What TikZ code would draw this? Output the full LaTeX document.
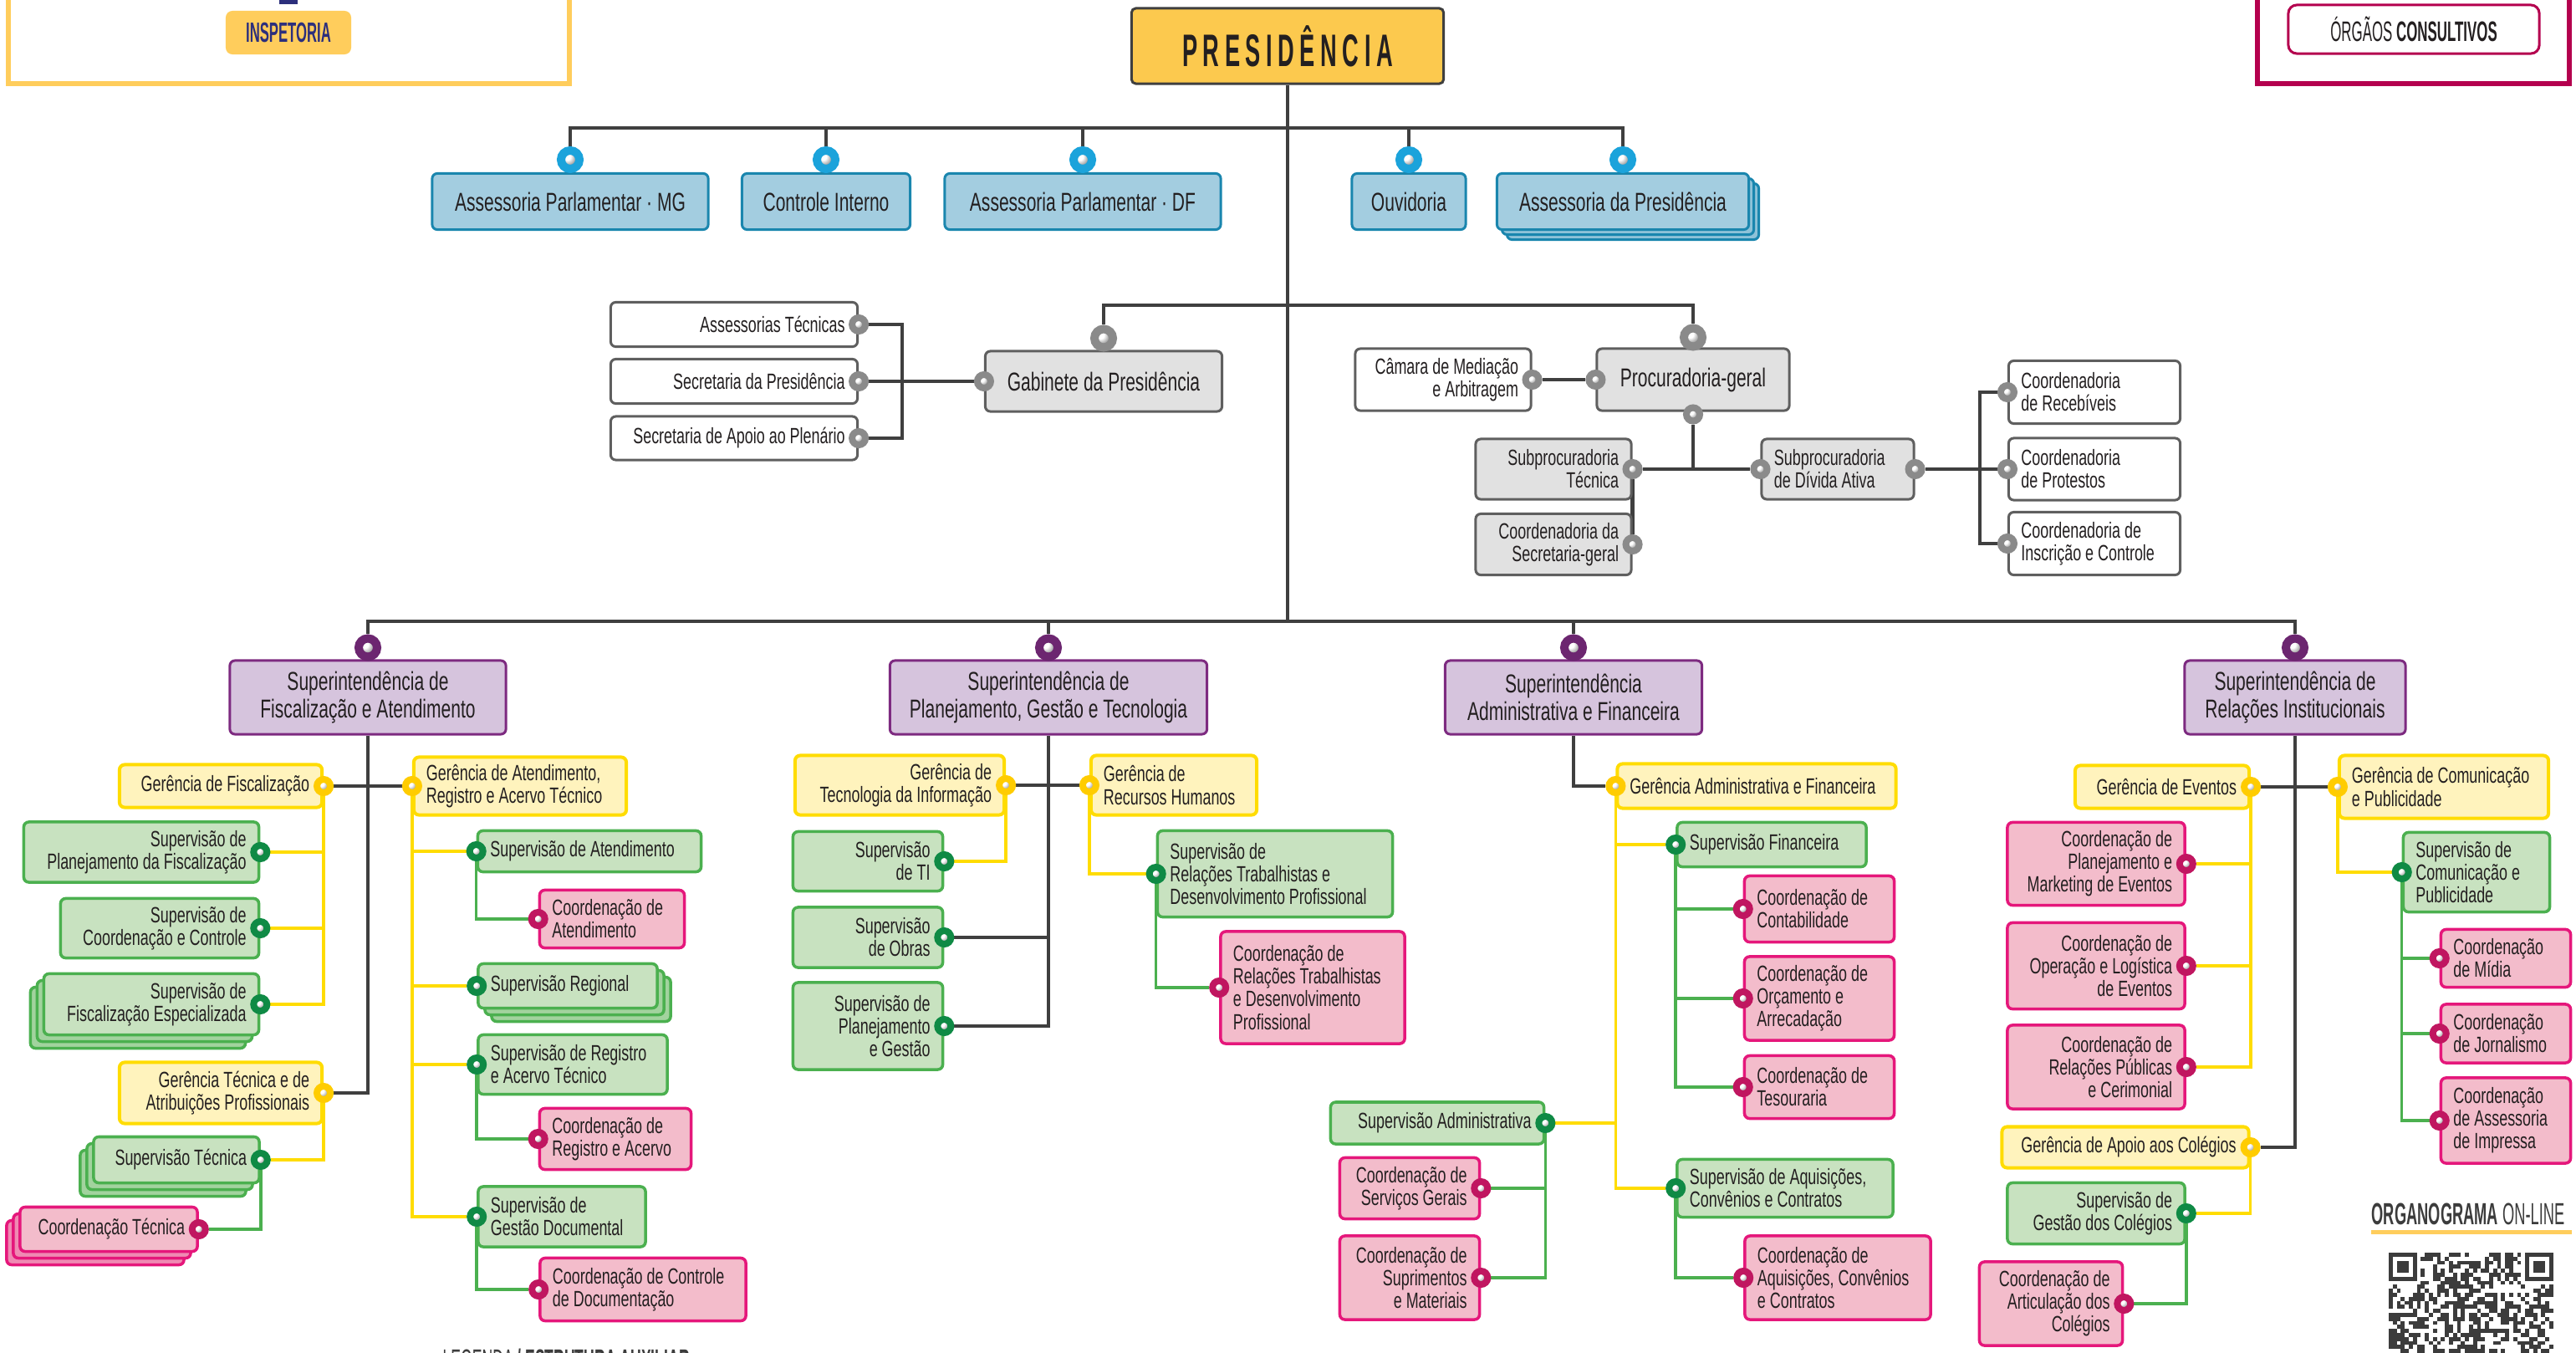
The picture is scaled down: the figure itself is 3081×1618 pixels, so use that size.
\documentclass[tikz,border=0pt]{standalone}
\usepackage{fontspec}
\setmainfont{Liberation Sans}[FakeStretch=0.68]
\newfontfamily\condfont{Liberation Sans}[FakeStretch=0.5]
\newfontfamily\presfont{Liberation Sans}[FakeStretch=0.5,LetterSpace=12]
\usetikzlibrary{shadows,backgrounds}

\definecolor{txt}{HTML}{231F20}
\definecolor{bluefill}{HTML}{A3CDE0}
\definecolor{blueline}{HTML}{1A86AE}
\definecolor{bluering}{HTML}{1BA3DB}
\definecolor{greyfill}{HTML}{E1E1E1}
\definecolor{greyline}{HTML}{5F5F5F}
\definecolor{greyring}{HTML}{8A8A8A}
\definecolor{purplefill}{HTML}{D6C4DD}
\definecolor{purpleline}{HTML}{7D2A80}
\definecolor{purplering}{HTML}{6C2670}
\definecolor{yellowfill}{HTML}{FFF3BD}
\definecolor{yellowline}{HTML}{FFDC00}
\definecolor{yellowring}{HTML}{FFCC00}
\definecolor{greenfill}{HTML}{C8E2C0}
\definecolor{greenline}{HTML}{4BB04F}
\definecolor{greenring}{HTML}{0F8A45}
\definecolor{pinkfill}{HTML}{F3BCCB}
\definecolor{pinkline}{HTML}{E5177B}
\definecolor{pinkring}{HTML}{C01660}
\definecolor{linegrey}{HTML}{3F3F3F}
\definecolor{presfill}{HTML}{FCC94E}
\definecolor{insfill}{HTML}{FFCD5C}
\definecolor{insnavy}{HTML}{2C2F7C}
\definecolor{orgcrimson}{HTML}{B4004E}
\definecolor{qrgrey}{HTML}{3C3C3C}

\newcommand{\bigtxt}{\fontsize{8.8}{9.2}\selectfont}
\newcommand{\smalltxt}{\fontsize{7.5}{7.7}\selectfont}

\begin{document}
\begin{tikzpicture}[x=0.01cm, y=-0.01cm]

\tikzstyle{box} = [rectangle, rounded corners=0.06cm, line width=0.03cm, inner xsep=0.15cm, inner ysep=0.03cm, text=txt]
\tikzstyle{bluebox} = [box, fill=bluefill, draw=blueline, font=\bigtxt, align=flush center]
\tikzstyle{purplebox} = [box, fill=purplefill, draw=purpleline, font=\bigtxt, align=flush center]
\tikzstyle{greybox} = [box, fill=greyfill, draw=greyline, font=\smalltxt]
\tikzstyle{whitebox} = [box, fill=white, draw=greyline, font=\smalltxt]
\tikzstyle{yellowbox} = [box, fill=yellowfill, draw=yellowline, line width=0.04cm, font=\smalltxt]
\tikzstyle{greenbox} = [box, fill=greenfill, draw=greenline, line width=0.035cm, font=\smalltxt]
\tikzstyle{pinkbox} = [box, fill=pinkfill, draw=pinkline, line width=0.035cm, font=\smalltxt]
\tikzstyle{lt} = [align=flush left]
\tikzstyle{rt} = [align=flush right]
\tikzstyle{bstackr} = [double copy shadow={shadow xshift=0.06cm, shadow yshift=-0.06cm, fill=bluefill!85!blueline, draw=blueline, line width=0.03cm}]
\tikzstyle{gstackl} = [double copy shadow={shadow xshift=-0.08cm, shadow yshift=-0.08cm, fill=greenfill!70!greenline, draw=greenline, line width=0.035cm}]
\tikzstyle{gstackr} = [double copy shadow={shadow xshift=0.08cm, shadow yshift=-0.08cm, fill=greenfill!70!greenline, draw=greenline, line width=0.035cm}]
\tikzstyle{pstackl} = [double copy shadow={shadow xshift=-0.08cm, shadow yshift=-0.08cm, fill=pinkfill!70!pinkline, draw=pinkline, line width=0.035cm}]

\tikzstyle{knob} = [circle, inner sep=0pt, ball color=white]
\tikzstyle{bigknob} = [knob, minimum size=0.22cm, line width=0.1cm]
\tikzstyle{smallknob} = [knob, minimum size=0.16cm, line width=0.08cm]
\tikzstyle{blueknob} = [bigknob, draw=bluering]
\tikzstyle{greyknob} = [bigknob, draw=greyring]
\tikzstyle{greysmall} = [smallknob, draw=greyring]
\tikzstyle{purpleknob} = [bigknob, draw=purplering]
\tikzstyle{yellowknob} = [smallknob, draw=yellowring]
\tikzstyle{greenknob} = [smallknob, draw=greenring]
\tikzstyle{pinkknob} = [smallknob, draw=pinkring]

\tikzstyle{darkline} = [line width=0.045cm, linegrey]
\tikzstyle{yline} = [line width=0.035cm, yellowline]
\tikzstyle{gline} = [line width=0.035cm, greenline]

\tikzstyle{insframe} = [line width=0.06cm, draw=insfill]
\tikzstyle{insbutton} = [rectangle, rounded corners=0.08cm, fill=insfill, text=insnavy, font={\condfont\fontsize{9.5}{11}\selectfont\bfseries}]
\tikzstyle{orgframe} = [line width=0.06cm, draw=orgcrimson]
\tikzstyle{orgbutton} = [rectangle, rounded corners=0.1cm, draw=orgcrimson, line width=0.03cm, fill=white, text=txt, font={\condfont\fontsize{9.6}{11}\selectfont}]
\tikzstyle{presbox} = [rectangle, rounded corners=0.05cm, fill=presfill, draw=linegrey, line width=0.03cm, text=txt, font={\presfont\fontsize{15.5}{18}\selectfont\bfseries}]

\useasboundingbox (0,0) rectangle (3081,1618);

% frames at the top
\draw[insframe] (10,-30) rectangle (681,100);
\fill[insnavy] (334,0) rectangle (356,5);
\node[insbutton, minimum width=1.50cm, minimum height=0.52cm] (insp) at (345,39) {INSPETORIA};
\draw[orgframe] (2700,-30) rectangle (3073,100);
\node[orgbutton, minimum width=3.00cm, minimum height=0.58cm] (orgc) at (2887,35) {ÓRGÃOS \textbf{CONSULTIVOS}};

\node[presbox, minimum width=3.73cm, minimum height=0.90cm] (pres) at (1540,55) {PRESIDÊNCIA};

% first row
\node[bluebox, minimum width=3.30cm, minimum height=0.67cm] (amg) at (682,241) {Assessoria Parlamentar · MG};
\node[bluebox, minimum width=2.01cm, minimum height=0.67cm] (cint) at (988,241) {Controle Interno};
\node[bluebox, minimum width=3.30cm, minimum height=0.67cm] (adf) at (1295,241) {Assessoria Parlamentar · DF};
\node[bluebox, minimum width=1.36cm, minimum height=0.67cm] (ouv) at (1685,241) {Ouvidoria};
\node[bluebox, bstackr, minimum width=3.01cm, minimum height=0.67cm] (apres) at (1941,241) {Assessoria da Presidência};

% gabinete and procuradoria
\node[whitebox, rt, text width=2.65cm, minimum height=0.53cm] (atec) at (878,388) {Assessorias Técnicas};
\node[whitebox, rt, text width=2.65cm, minimum height=0.53cm] (spres) at (878,456) {Secretaria da Presidência};
\node[whitebox, rt, text width=2.65cm, minimum height=0.52cm] (sapo) at (878,524) {Secretaria de Apoio ao Plenário};
\node[greybox, font=\bigtxt, minimum width=2.83cm, minimum height=0.72cm] (gab) at (1320,456) {Gabinete da Presidência};
\node[whitebox, rt, text width=1.80cm, minimum height=0.74cm] (cam) at (1726,454) {Câmara de Mediação\\e Arbitragem};
\node[greybox, font=\bigtxt, minimum width=2.30cm, minimum height=0.74cm] (proc) at (2025,454) {Procuradoria-geral};
\node[greybox, rt, text width=1.56cm, minimum height=0.72cm] (subt) at (1858,561) {Subprocuradoria\\Técnica};
\node[greybox, rt, text width=1.56cm, minimum height=0.73cm] (csec) at (1858,651) {Coordenadoria da\\Secretaria-geral};
\node[greybox, lt, text width=1.52cm, minimum height=0.72cm] (subd) at (2198,561) {Subprocuradoria\\de Dívida Ativa};
\node[whitebox, lt, text width=1.75cm, minimum height=0.75cm] (receb) at (2505,469) {Coordenadoria\\de Recebíveis};
\node[whitebox, lt, text width=1.75cm, minimum height=0.74cm] (protes) at (2505,561) {Coordenadoria\\de Protestos};
\node[whitebox, lt, text width=1.75cm, minimum height=0.75cm] (inscr) at (2505,650) {Coordenadoria de\\Inscrição e Controle};

% superintendencias
\node[purplebox, minimum width=3.30cm, minimum height=0.88cm] (sfa) at (440,834) {Superintendência de\\Fiscalização e Atendimento};
\node[purplebox, minimum width=3.79cm, minimum height=0.88cm] (spgt) at (1254,834) {Superintendência de\\Planejamento, Gestão e Tecnologia};
\node[purplebox, minimum width=3.07cm, minimum height=0.88cm] (saf) at (1882,834) {Superintendência\\Administrativa e Financeira};
\node[purplebox, minimum width=2.64cm, minimum height=0.88cm] (sri) at (2745,834) {Superintendência de\\Relações Institucionais};

% fiscalizacao e atendimento
\node[yellowbox, rt, text width=2.12cm, minimum height=0.51cm] (gfis) at (264,940) {Gerência de Fiscalização};
\node[yellowbox, lt, text width=2.24cm, minimum height=0.69cm] (gate) at (622,940) {Gerência de Atendimento,\\Registro e Acervo Técnico};
\node[greenbox, rt, text width=2.51cm, minimum height=0.72cm] (splf) at (169,1019) {Supervisão de\\Planejamento da Fiscalização};
\node[greenbox, rt, text width=2.07cm, minimum height=0.71cm] (scoc) at (191,1110) {Supervisão de\\Coordenação e Controle};
\node[greenbox, gstackl, rt, text width=2.27cm, minimum height=0.73cm] (sfes) at (181,1201) {Supervisão de\\Fiscalização Especializada};
\node[yellowbox, rt, text width=2.12cm, minimum height=0.73cm] (gtec) at (264,1307) {Gerência Técnica e de\\Atribuições Profissionais};
\node[greenbox, gstackl, rt, text width=1.68cm, minimum height=0.55cm] (stec) at (211,1387) {Supervisão Técnica};
\node[pinkbox, pstackl, rt, text width=1.82cm, minimum height=0.53cm] (ctec) at (130,1470) {Coordenação Técnica};
\node[greenbox, lt, text width=2.37cm, minimum height=0.49cm] (sate) at (705,1018) {Supervisão de Atendimento};
\node[pinkbox, lt, text width=1.43cm, minimum height=0.69cm] (cate) at (732,1099) {Coordenação de\\Atendimento};
\node[greenbox, gstackr, lt, text width=1.84cm, minimum height=0.53cm] (sreg) at (679,1179) {Supervisão Regional};
\node[greenbox, lt, text width=1.96cm, minimum height=0.71cm] (srac) at (685,1273) {Supervisão de Registro\\e Acervo Técnico};
\node[pinkbox, lt, text width=1.51cm, minimum height=0.73cm] (crac) at (736,1362) {Coordenação de\\Registro e Acervo};
\node[greenbox, lt, text width=1.70cm, minimum height=0.72cm] (sgdo) at (672,1455) {Supervisão de\\Gestão Documental};
\node[pinkbox, lt, text width=2.16cm, minimum height=0.75cm] (ccdo) at (769,1542) {Coordenação de Controle\\de Documentação};

% planejamento, gestao e tecnologia
\node[yellowbox, rt, text width=2.20cm, minimum height=0.71cm] (gti) at (1076,939) {Gerência de\\Tecnologia da Informação};
\node[yellowbox, lt, text width=1.68cm, minimum height=0.71cm] (grh) at (1404,939) {Gerência de\\Recursos Humanos};
\node[greenbox, rt, text width=1.49cm, minimum height=0.71cm] (sti) at (1038,1030) {Supervisão\\de TI};
\node[greenbox, rt, text width=1.49cm, minimum height=0.72cm] (sobr) at (1038,1121) {Supervisão\\de Obras};
\node[greenbox, rt, text width=1.49cm, minimum height=1.04cm] (splg) at (1038,1227) {Supervisão de\\Planejamento\\e Gestão};
\node[greenbox, lt, text width=2.51cm, minimum height=1.03cm] (srtd) at (1525,1045) {Supervisão de\\Relações Trabalhistas e\\Desenvolvimento Profissional};
\node[pinkbox, lt, text width=1.90cm, minimum height=1.34cm] (crtd) at (1570,1181) {Coordenação de\\Relações Trabalhistas\\e Desenvolvimento\\Profissional};

% administrativa e financeira
\node[yellowbox, lt, text width=3.03cm, minimum height=0.53cm] (gaf) at (2101,940) {Gerência Administrativa e Financeira};
\node[greenbox, lt, text width=1.96cm, minimum height=0.53cm] (sfin) at (2119,1010) {Supervisão Financeira};
\node[pinkbox, lt, text width=1.49cm, minimum height=0.79cm] (ccon) at (2176,1087) {Coordenação de\\Contabilidade};
\node[pinkbox, lt, text width=1.49cm, minimum height=1.00cm] (corc) at (2176,1194) {Coordenação de\\Orçamento e\\Arrecadação};
\node[pinkbox, lt, text width=1.49cm, minimum height=0.75cm] (ctes) at (2176,1300) {Coordenação de\\Tesouraria};
\node[greenbox, rt, text width=2.25cm, minimum height=0.50cm] (sadm) at (1719,1343) {Supervisão Administrativa};
\node[pinkbox, rt, text width=1.37cm, minimum height=0.73cm] (csge) at (1686,1421) {Coordenação de\\Serviços Gerais};
\node[pinkbox, rt, text width=1.37cm, minimum height=1.00cm] (csma) at (1686,1528) {Coordenação de\\Suprimentos\\e Materiais};
\node[greenbox, lt, text width=2.28cm, minimum height=0.69cm] (saqc) at (2135,1421) {Supervisão de Aquisições,\\Convênios e Contratos};
\node[pinkbox, lt, text width=1.92cm, minimum height=1.00cm] (caqc) at (2198,1528) {Coordenação de\\Aquisições, Convênios\\e Contratos};

% relacoes institucionais
\node[yellowbox, rt, text width=1.78cm, minimum height=0.51cm] (gev) at (2586,941) {Gerência de Eventos};
\node[yellowbox, lt, text width=2.20cm, minimum height=0.75cm] (gcp) at (2923,941) {Gerência de Comunicação\\e Publicidade};
\node[pinkbox, rt, text width=1.82cm, minimum height=0.99cm] (cpme) at (2507,1033) {Coordenação de\\Planejamento e\\Marketing de Eventos};
\node[pinkbox, rt, text width=1.82cm, minimum height=1.03cm] (cole) at (2507,1155) {Coordenação de\\Operação e Logística\\de Eventos};
\node[pinkbox, rt, text width=1.82cm, minimum height=1.00cm] (crpc) at (2507,1276) {Coordenação de\\Relações Públicas\\e Cerimonial};
\node[yellowbox, rt, text width=2.65cm, minimum height=0.49cm] (gac) at (2542,1372) {Gerência de Apoio aos Colégios};
\node[greenbox, rt, text width=1.82cm, minimum height=0.73cm] (sgco) at (2507,1451) {Supervisão de\\Gestão dos Colégios};
\node[pinkbox, rt, text width=1.41cm, minimum height=1.00cm] (caco) at (2453,1559) {Coordenação de\\Articulação dos\\Colégios};
\node[greenbox, lt, text width=1.45cm, minimum height=0.95cm] (scp) at (2962,1043) {Supervisão de\\Comunicação e\\Publicidade};
\node[pinkbox, lt, text width=1.25cm, minimum height=0.69cm] (cmid) at (2997,1146) {Coordenação\\de Mídia};
\node[pinkbox, lt, text width=1.25cm, minimum height=0.70cm] (cjor) at (2997,1236) {Coordenação\\de Jornalismo};
\node[pinkbox, lt, text width=1.25cm, minimum height=1.02cm] (cimp) at (2997,1340) {Coordenação\\de Assessoria\\de Impressa};

% rings
\node[blueknob] (k-amg) at ([yshift=0.15cm]amg.north) {};
\node[blueknob] (k-cint) at ([yshift=0.15cm]cint.north) {};
\node[blueknob] (k-adf) at ([yshift=0.15cm]adf.north) {};
\node[blueknob] (k-ouv) at ([yshift=0.15cm]ouv.north) {};
\node[blueknob] (k-apres) at ([yshift=0.15cm]apres.north) {};
\node[greyknob] (k-gab) at ([yshift=0.14cm]gab.north) {};
\node[greysmall] (k-gabl) at (gab.west) {};
\node[greysmall] (k-atec) at (atec.east) {};
\node[greysmall] (k-spres) at (spres.east) {};
\node[greysmall] (k-sapo) at (sapo.east) {};
\node[greyknob] (k-proc) at ([yshift=0.12cm]proc.north) {};
\node[greysmall] (k-procl) at (proc.west) {};
\node[greysmall] (k-procb) at ([yshift=-0.03cm]proc.south) {};
\node[greysmall] (k-cam) at (cam.east) {};
\node[greysmall] (k-subt) at (subt.east) {};
\node[greysmall] (k-csec) at (csec.east) {};
\node[greysmall] (k-subdl) at (subd.west) {};
\node[greysmall] (k-subdr) at (subd.east) {};
\node[greysmall] (k-receb) at (receb.west) {};
\node[greysmall] (k-protes) at (protes.west) {};
\node[greysmall] (k-inscr) at (inscr.west) {};
\node[purpleknob] (k-sfa) at ([yshift=0.14cm]sfa.north) {};
\node[purpleknob] (k-spgt) at ([yshift=0.14cm]spgt.north) {};
\node[purpleknob] (k-saf) at ([yshift=0.14cm]saf.north) {};
\node[purpleknob] (k-sri) at ([yshift=0.14cm]sri.north) {};

\node[yellowknob] (k-gfis) at (gfis.east) {};
\node[yellowknob] (k-gate) at (gate.west) {};
\node[yellowknob] (k-gtec) at (gtec.east) {};
\node[greenknob] (k-splf) at (splf.east) {};
\node[greenknob] (k-scoc) at (scoc.east) {};
\node[greenknob] (k-sfes) at (sfes.east) {};
\node[greenknob] (k-stec) at (stec.east) {};
\node[pinkknob] (k-ctec) at (ctec.east) {};
\node[greenknob] (k-sate) at (sate.west) {};
\node[pinkknob] (k-cate) at (cate.west) {};
\node[greenknob] (k-sreg) at (sreg.west) {};
\node[greenknob] (k-srac) at (srac.west) {};
\node[pinkknob] (k-crac) at (crac.west) {};
\node[greenknob] (k-sgdo) at (sgdo.west) {};
\node[pinkknob] (k-ccdo) at (ccdo.west) {};

\node[yellowknob] (k-gti) at (gti.east) {};
\node[yellowknob] (k-grh) at (grh.west) {};
\node[greenknob] (k-sti) at (sti.east) {};
\node[greenknob] (k-sobr) at (sobr.east) {};
\node[greenknob] (k-splg) at (splg.east) {};
\node[greenknob] (k-srtd) at (srtd.west) {};
\node[pinkknob] (k-crtd) at (crtd.west) {};

\node[yellowknob] (k-gaf) at (gaf.west) {};
\node[greenknob] (k-sfin) at (sfin.west) {};
\node[pinkknob] (k-ccon) at (ccon.west) {};
\node[pinkknob] (k-corc) at (corc.west) {};
\node[pinkknob] (k-ctes) at (ctes.west) {};
\node[greenknob] (k-sadm) at (sadm.east) {};
\node[pinkknob] (k-csge) at (csge.east) {};
\node[pinkknob] (k-csma) at (csma.east) {};
\node[greenknob] (k-saqc) at (saqc.west) {};
\node[pinkknob] (k-caqc) at (caqc.west) {};

\node[yellowknob] (k-gev) at (gev.east) {};
\node[yellowknob] (k-gcp) at (gcp.west) {};
\node[pinkknob] (k-cpme) at (cpme.east) {};
\node[pinkknob] (k-cole) at (cole.east) {};
\node[pinkknob] (k-crpc) at (crpc.east) {};
\node[yellowknob] (k-gac) at (gac.east) {};
\node[greenknob] (k-sgco) at (sgco.east) {};
\node[pinkknob] (k-caco) at (caco.east) {};
\node[greenknob] (k-scp) at (scp.west) {};
\node[pinkknob] (k-cmid) at (cmid.west) {};
\node[pinkknob] (k-cjor) at (cjor.west) {};
\node[pinkknob] (k-cimp) at (cimp.west) {};

\coordinate (t0) at (1540,153);
\coordinate (t1) at (1540,365);
\coordinate (t2) at (1540,743);
\coordinate (gb) at (1079,456);
\coordinate (pb) at (2368,561);

% connectors
\begin{scope}[on background layer]
\draw[darkline] (pres.south) -- (t2);
\draw[darkline] (k-amg) |- (t0) -| (k-apres);
\draw[darkline] (k-cint) -- (k-cint |- t0);
\draw[darkline] (k-adf) -- (k-adf |- t0);
\draw[darkline] (k-ouv) -- (k-ouv |- t0);
\draw[darkline] (k-gab) |- (t1) -| (k-proc);
\draw[darkline] (k-atec) -| (gb) |- (k-sapo);
\draw[darkline] (k-spres) -- (k-gabl);
\draw[darkline] (k-cam) -- (k-procl);
\draw[darkline] (k-procb) |- (k-subt);
\draw[darkline] (k-subt) -- (k-subdl);
\draw[darkline] (k-subt) -- (k-csec);
\draw[darkline] (k-subdr) -- (k-protes);
\draw[darkline] (k-receb) -| (pb) |- (k-inscr);
\draw[darkline] (k-sfa) |- (t2) -| (k-sri);
\draw[darkline] (k-spgt) -- (k-spgt |- t2);
\draw[darkline] (k-saf) -- (k-saf |- t2);

\draw[darkline] (sfa.south) |- (k-gtec);
\draw[darkline] (k-gfis) -- (k-gate);
\draw[yline] (k-gfis) |- (k-sfes);
\draw[yline] (k-gfis |- k-splf) -- (k-splf);
\draw[yline] (k-gfis |- k-scoc) -- (k-scoc);
\draw[yline] (k-gtec) |- (k-stec);
\draw[gline] (k-stec) |- (k-ctec);
\draw[yline] (k-gate) |- (k-sgdo);
\draw[yline] (k-gate |- k-sate) -- (k-sate);
\draw[yline] (k-gate |- k-sreg) -- (k-sreg);
\draw[yline] (k-gate |- k-srac) -- (k-srac);
\draw[gline] (k-sate) |- (k-cate);
\draw[gline] (k-srac) |- (k-crac);
\draw[gline] (k-sgdo) |- (k-ccdo);

\draw[darkline] (spgt.south) |- (k-splg);
\draw[darkline] (k-sobr) -- (k-sobr -| spgt.south);
\draw[darkline] (k-gti) -- (k-grh);
\draw[yline] (k-gti) |- (k-sti);
\draw[yline] (k-grh) |- (k-srtd);
\draw[gline] (k-srtd) |- (k-crtd);

\draw[darkline] (saf.south) |- (k-gaf);
\draw[yline] (k-gaf) |- (k-saqc);
\draw[yline] (k-gaf |- k-sfin) -- (k-sfin);
\draw[yline] (k-gaf |- k-sadm) -- (k-sadm);
\draw[gline] (k-sfin) |- (k-ctes);
\draw[gline] (k-sfin |- k-ccon) -- (k-ccon);
\draw[gline] (k-sfin |- k-corc) -- (k-corc);
\draw[gline] (k-sadm) |- (k-csma);
\draw[gline] (k-sadm |- k-csge) -- (k-csge);
\draw[gline] (k-saqc) |- (k-caqc);

\draw[darkline] (sri.south) |- (k-gac);
\draw[darkline] (k-gev) -- (k-gcp);
\draw[yline] (k-gev) |- (k-crpc);
\draw[yline] (k-gev |- k-cpme) -- (k-cpme);
\draw[yline] (k-gev |- k-cole) -- (k-cole);
\draw[yline] (k-gac) |- (k-sgco);
\draw[gline] (k-sgco) |- (k-caco);
\draw[yline] (k-gcp) |- (k-scp);
\draw[gline] (k-scp) |- (k-cimp);
\draw[gline] (k-scp |- k-cmid) -- (k-cmid);
\draw[gline] (k-scp |- k-cjor) -- (k-cjor);
\end{scope}

% organograma on-line
\node[anchor=base west, inner sep=0pt, text=qrgrey, font={\condfont\fontsize{10.4}{12}\selectfont}] (online) at (2836,1464) {\textbf{ORGANOGRAMA} ON-LINE};
\draw[line width=0.05cm, insfill] (online.base west) ++(0,9) -- ++(240,0);
\begin{scope}[shift={(2857,1498)}]
\fill[qrgrey] (0,0) rectangle (33.6,33.6);
\fill[white] (4.8,4.8) rectangle (28.8,28.8);
\fill[qrgrey] (9.6,9.6) rectangle (24,24);
\fill[qrgrey] (163.2,0) rectangle (196.8,33.6);
\fill[white] (168,4.8) rectangle (192,28.8);
\fill[qrgrey] (172.8,9.6) rectangle (187.2,24);
\pgfmathsetseed{1618}
\foreach \i in {0,...,40}{
  \foreach \j in {0,...,25}{
    \pgfmathtruncatemacro{\skipit}{(\j<8)*((\i<8)+(\i>32))}
    \pgfmathtruncatemacro{\on}{rnd<0.5}
    \ifnum\skipit=0 \ifnum\on=1 \fill[qrgrey] (\i*4.8,\j*4.8) rectangle +(4.8,4.8); \fi\fi
  }
}
\end{scope}

\node[anchor=north west, inner sep=0pt, text=qrgrey, font={\condfont\fontsize{10}{12}\selectfont}] (legenda) at (529,1612) {LEGENDA \textbf{/ ESTRUTURA AUXILIAR}};

\end{tikzpicture}
\end{document}
